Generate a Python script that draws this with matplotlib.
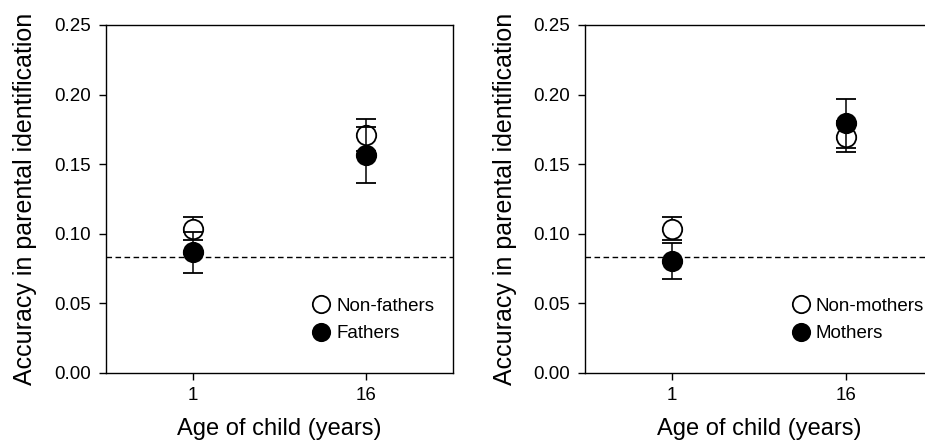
import numpy as np
import matplotlib
matplotlib.use("Agg")
import matplotlib.pyplot as plt
from matplotlib.lines import Line2D

plt.rcParams['font.family'] = ['Liberation Sans', 'DejaVu Sans']

ages = ['1', '16']
chance = 0.083

# left panel: men
non_fathers = [0.1037, 0.171]
non_fathers_err = [0.0083, 0.0117]
fathers = [0.0867, 0.1566]
fathers_err = [0.0147, 0.0199]

# right panel: women
non_mothers = [0.1037, 0.1698]
non_mothers_err = [0.0080, 0.0112]
mothers = [0.0805, 0.1794]
mothers_err = [0.0127, 0.0177]

panels = [
    (non_fathers, non_fathers_err, fathers, fathers_err, 'Non-fathers', 'Fathers'),
    (non_mothers, non_mothers_err, mothers, mothers_err, 'Non-mothers', 'Mothers'),
]

fig = plt.figure(figsize=(9.25, 4.44), dpi=100)
ax_left = fig.add_axes([0.1146, 0.16, 0.3751, 0.7838])
ax_right = fig.add_axes([0.6328, 0.16, 0.3751, 0.7838])

x = np.arange(len(ages))
for ax, (open_v, open_e, fill_v, fill_e, open_lab, fill_lab) in zip([ax_left, ax_right], panels):
    ax.axhline(chance, color='black', lw=1.0, ls=(0, (4, 2.5)), zorder=1)
    ax.errorbar(x, open_v, yerr=open_e, fmt='o', ms=14, mfc='white', mec='black',
                mew=1.3, ecolor='black', elinewidth=1.1, capsize=7, capthick=1.1, zorder=3)
    ax.errorbar(x, fill_v, yerr=fill_e, fmt='o', ms=14, mfc='black', mec='black',
                mew=1.3, ecolor='black', elinewidth=1.1, capsize=7, capthick=1.1, zorder=4)

    ax.set_xlim(-0.5, 1.5)
    ax.set_ylim(0, 0.25)
    ax.set_xticks(x)
    ax.set_xticklabels(ages)
    ax.set_yticks(np.arange(0, 0.26, 0.05))
    ax.set_yticklabels(['%.2f' % v for v in np.arange(0, 0.26, 0.05)])
    ax.tick_params(labelsize=13.5, length=5, width=1.0, color='black')
    ax.tick_params(axis='y', pad=6)
    ax.tick_params(axis='x', pad=5)
    for s in ax.spines.values():
        s.set_linewidth(1.0)
    ax.set_xlabel('Age of child (years)', fontsize=17, labelpad=10)
    ax.set_ylabel('Accuracy in parental identification', fontsize=18, labelpad=12)

    handles = [
        Line2D([], [], ls='none', marker='o', ms=12.5, mfc='white', mec='black', mew=1.3),
        Line2D([], [], ls='none', marker='o', ms=12.5, mfc='black', mec='black', mew=1.3),
    ]
    ax.legend(handles, [open_lab, fill_lab], loc='center left',
              bbox_to_anchor=(0.567, 0.152), frameon=False, fontsize=13.5,
              handlelength=1.0, handletextpad=0.3, labelspacing=0.55, borderpad=0)

fig.savefig('out.png', dpi=100)
